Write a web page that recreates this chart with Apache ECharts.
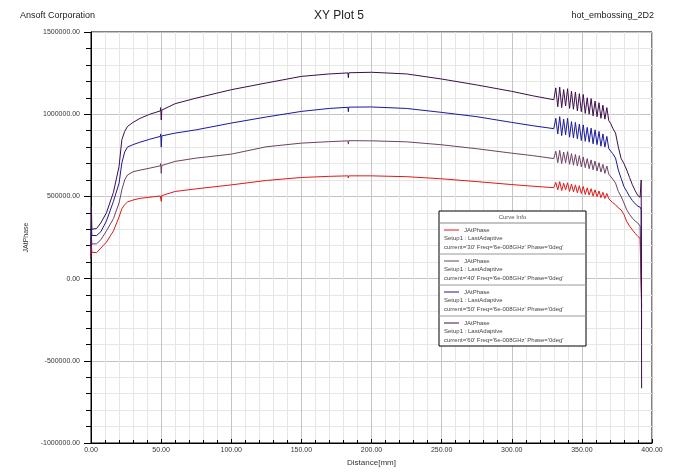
<!DOCTYPE html>
<html>
<head>
<meta charset="utf-8">
<script src="https://cdn.jsdelivr.net/npm/echarts@6/dist/echarts.min.js"></script>
<style>html,body{margin:0;padding:0;background:#fff}#c{width:678px;height:472px}</style>
</head>
<body>
<div id="c"></div>
<script>
// Distance [mm] sample positions
var xs = [0, 0.3, 0.6, 1.5, 4, 7, 11, 16, 20, 22, 24, 26, 30, 35, 42, 49.4, 49.7, 50.1, 50.5, 60, 75, 100, 125, 150, 170, 183.2, 183.5, 183.8, 200, 225, 250, 275, 300, 315, 330,
  331.4, 332.8, 334.2, 335.6, 337.0, 338.4, 339.8, 341.2, 342.6, 344.0, 345.4, 346.8, 348.2, 349.6, 351.0, 352.4, 353.8, 355.2, 356.6, 358.0, 359.4, 360.8, 362.2, 363.6, 365.0, 366.4, 367.8, 369.2,
  370.5, 372, 374, 376, 378, 380, 382, 384, 386, 388, 390, 391.5, 392.3, 392.6];

var cur30 = [130000, 200000, 160000, 157000, 158000, 185000, 222000, 290000, 375000, 425000, 450000, 466000, 478000, 488000, 495000, 503000, 510000, 470000, 505000, 530000, 546000, 570000, 597000, 615000, 622000, 625000, 612000, 625000, 625000, 620000, 607000, 590000, 572000, 562000, 553000,
  585000, 540000, 590000, 535000, 580000, 540000, 583000, 530000, 575000, 528000, 570000, 522000, 565000, 518000, 560000, 512000, 552000, 508000, 547000, 502000, 540000, 498000, 533000, 492000, 525000, 487000, 518000, 485000,
  479000, 462000, 449000, 430000, 418000, 390000, 347000, 320000, 297000, 275000, 256000, 246000, 240000, -170000];

var cur40 = [180000, 260000, 210000, 205000, 212000, 236000, 290000, 365000, 460000, 540000, 600000, 630000, 650000, 660000, 672000, 686000, 700000, 640000, 688000, 713000, 733000, 757000, 802000, 824000, 833000, 838000, 818000, 839000, 838000, 832000, 814000, 790000, 763000, 748000, 730000,
  775000, 705000, 780000, 700000, 770000, 705000, 772000, 695000, 760000, 690000, 755000, 685000, 748000, 680000, 740000, 675000, 730000, 668000, 722000, 662000, 715000, 655000, 705000, 648000, 695000, 640000, 685000, 635000,
  631000, 605000, 581000, 530000, 499000, 460000, 418000, 390000, 368000, 350000, 337000, 320000, 310000, -120000];

var cur50 = [200000, 330000, 262000, 256000, 262000, 285000, 350000, 470000, 580000, 703000, 770000, 800000, 815000, 830000, 848000, 865000, 880000, 800000, 868000, 885000, 905000, 946000, 983000, 1017000, 1035000, 1042000, 1015000, 1043000, 1044000, 1035000, 1011000, 985000, 950000, 930000, 912000,
  975000, 880000, 985000, 870000, 970000, 875000, 975000, 860000, 955000, 855000, 950000, 850000, 940000, 840000, 935000, 835000, 920000, 830000, 915000, 820000, 905000, 815000, 895000, 805000, 880000, 800000, 865000, 790000,
  794000, 760000, 733000, 660000, 610000, 560000, 530000, 500000, 475000, 455000, 440000, 435000, 420000, -300000];

var cur60 = [120000, 438000, 300000, 297000, 305000, 339000, 400000, 525000, 682000, 845000, 895000, 925000, 950000, 975000, 1000000, 1020000, 1040000, 965000, 1025000, 1064000, 1098000, 1149000, 1190000, 1230000, 1245000, 1251000, 1222000, 1252000, 1255000, 1245000, 1214000, 1178000, 1139000, 1112000, 1088000,
  1160000, 1045000, 1165000, 1040000, 1150000, 1050000, 1155000, 1035000, 1140000, 1030000, 1135000, 1020000, 1125000, 1015000, 1120000, 1005000, 1100000, 1000000, 1095000, 990000, 1080000, 985000, 1070000, 975000, 1055000, 970000, 1040000, 960000,
  945000, 915000, 885000, 800000, 730000, 700000, 660000, 615000, 571000, 535000, 504000, 495000, 600000, -667000];

var seriesNames = ["current='30'", "current='40'", "current='50'", "current='60'"];
var seriesValues = [cur30, cur40, cur50, cur60];
var seriesColors = ['#e01818', '#6e4262', '#1a1a9a', '#3c0e4a'];

var chart = echarts.init(document.getElementById('c'));
var FONT = 'Liberation Sans, Arial, sans-serif';

var series = seriesValues.map(function (vals, k) {
  return {
    name: seriesNames[k],
    type: 'line',
    showSymbol: false,
    symbol: 'none',
    data: xs.map(function (x, i) { return [x, vals[i]]; }),
    lineStyle: { width: 1, color: seriesColors[k] },
    itemStyle: { color: seriesColors[k] },
    z: 3 + k
  };
});

// Legend box ("Curve Info")
var LX = 439, LY = 211, LW = 147, LH = 135;
var graphics = [
  { type: 'text', left: 20, top: 11, style: { text: 'Ansoft Corporation', font: '9px ' + FONT, fill: '#222' } },
  { type: 'text', left: 'center', top: 10, style: { text: 'XY Plot 5', font: '12px ' + FONT, fill: '#222' } },
  { type: 'text', right: 24, top: 11, style: { text: 'hot_embossing_2D2', font: '9px ' + FONT, fill: '#222' } },
  { type: 'rect', shape: { x: LX, y: LY, width: LW, height: LH }, style: { fill: '#fff', stroke: '#000', lineWidth: 1 }, z: 100 },
  { type: 'text', x: LX + LW / 2, y: LY + 6, style: { text: 'Curve Info', font: '6px ' + FONT, fill: '#555', textAlign: 'center', textVerticalAlign: 'middle' }, z: 101 },
  { type: 'line', shape: { x1: LX, y1: LY + 12, x2: LX + LW, y2: LY + 12 }, style: { stroke: '#888', lineWidth: 1 }, z: 101 }
];
for (var k = 0; k < 4; k++) {
  var y0 = LY + 12 + k * 31;
  graphics.push({ type: 'line', shape: { x1: LX + 5, y1: y0 + 7, x2: LX + 20, y2: y0 + 7 }, style: { stroke: seriesColors[k], lineWidth: 1 }, z: 101 });
  graphics.push({ type: 'text', x: LX + 25, y: y0 + 7, style: { text: 'JAtPhase', font: '6px ' + FONT, fill: '#444', textVerticalAlign: 'middle' }, z: 101 });
  graphics.push({ type: 'text', x: LX + 5, y: y0 + 15.5, style: { text: 'Setup1 : LastAdaptive', font: '6px ' + FONT, fill: '#444', textVerticalAlign: 'middle' }, z: 101 });
  graphics.push({ type: 'text', x: LX + 5, y: y0 + 24.5, style: { text: seriesNames[k] + " Freq='6e-008GHz' Phase='0deg'", font: '6px ' + FONT, fill: '#444', textVerticalAlign: 'middle' }, z: 101 });
  if (k < 3) {
    graphics.push({ type: 'line', shape: { x1: LX, y1: y0 + 31, x2: LX + LW, y2: y0 + 31 }, style: { stroke: '#999', lineWidth: 1 }, z: 101 });
  }
}

chart.setOption({
  animation: false,
  backgroundColor: '#fff',
  grid: { left: 91, right: 26, top: 32, bottom: 29, show: true, borderColor: '#000', borderWidth: 1, backgroundColor: 'transparent' },
  xAxis: {
    type: 'value', min: 0, max: 400, interval: 50,
    name: 'Distance[mm]', nameLocation: 'middle', nameGap: 14,
    nameTextStyle: { fontSize: 8, color: '#333', fontFamily: FONT },
    axisLine: { show: true, onZero: false, lineStyle: { color: '#000', width: 1 } },
    axisTick: { show: true, inside: true, length: 4, lineStyle: { color: '#000' } },
    minorTick: { show: true, splitNumber: 5, length: 3, lineStyle: { color: '#000' } },
    axisLabel: { formatter: function (v) { return v.toFixed(2); }, fontSize: 7, color: '#333', margin: 4, fontFamily: FONT },
    splitLine: { show: true, lineStyle: { color: '#c4c4c4', width: 1 } },
    minorSplitLine: { show: true, lineStyle: { color: '#e6e6e6', width: 1 } }
  },
  yAxis: {
    type: 'value', min: -1000000, max: 1500000, interval: 500000,
    name: 'JAtPhase', nameLocation: 'middle', nameGap: 60, nameRotate: 90,
    nameTextStyle: { fontSize: 7, color: '#333', fontFamily: FONT },
    axisLine: { show: true, onZero: false, lineStyle: { color: '#000', width: 1 } },
    axisTick: { show: true, inside: false, length: 7, lineStyle: { color: '#000' } },
    minorTick: { show: true, splitNumber: 5, length: 5, lineStyle: { color: '#000' } },
    axisLabel: { formatter: function (v) { return v.toFixed(2); }, fontSize: 7, color: '#333', margin: 11, fontFamily: FONT },
    splitLine: { show: true, lineStyle: { color: '#c4c4c4', width: 1 } },
    minorSplitLine: { show: true, lineStyle: { color: '#e6e6e6', width: 1 } }
  },
  series: series,
  graphic: graphics
});
</script>
</body>
</html>
